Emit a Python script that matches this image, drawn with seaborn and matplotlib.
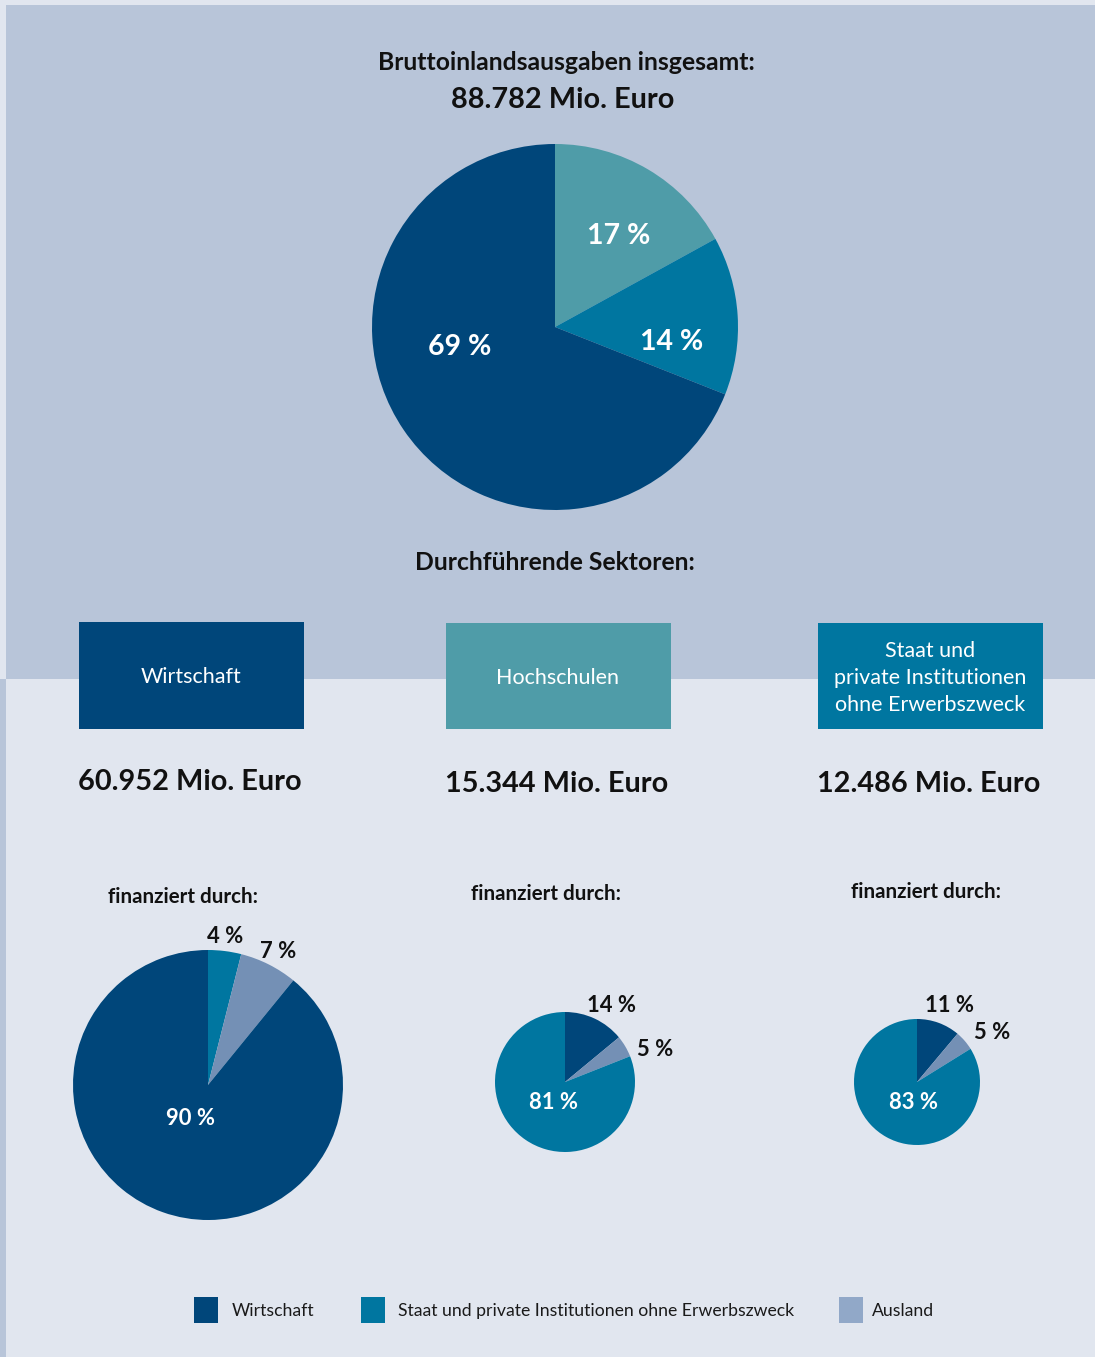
import matplotlib
matplotlib.use("Agg")
import matplotlib.pyplot as plt
import seaborn as sns
import numpy as np
from matplotlib.patches import Rectangle

# ---------------- data ----------------
total_amount = 88782
sectors = ["Wirtschaft", "Hochschulen", "Staat und\nprivate Institutionen\nohne Erwerbszweck"]
sector_keys = ["Wirtschaft", "Hochschulen", "Staat"]
sector_amounts = [60952, 15344, 12486]
# share of total by performing sector, drawn clockwise from top
total_order = ["Hochschulen", "Staat", "Wirtschaft"]
total_shares = [17, 14, 69]

funders = ["Wirtschaft", "Staat", "Ausland"]
funder_labels = ["Wirtschaft", "Staat und private Institutionen ohne Erwerbszweck", "Ausland"]
# financing shares (%) per performing sector, order: Wirtschaft, Staat, Ausland
fin_wirtschaft = [90, 4, 7]
fin_hochschulen = [14, 81, 5]
fin_staat = [11, 83, 5]

# ---------------- style ----------------
W, H = 1095, 1357
sns.set_theme(style="white")
plt.rcParams["font.family"] = ["Lato", "DejaVu Sans"]

colors = {
    "Wirtschaft": "#00467a",
    "Hochschulen": "#4f9ca8",
    "Staat": "#0076a0",
    "Ausland": "#7490b5",
}
legend_colors = {"Wirtschaft": "#00467a", "Staat": "#0076a0", "Ausland": "#91a8c8"}
sns.set_palette([colors[k] for k in ["Wirtschaft", "Staat", "Ausland"]])

bg_light = "#e1e6ef"
bg_panel = "#b8c5d9"

def fx(x):
    return x / W

def fy(y):
    return 1 - y / H

def de(n):
    return f"{n:,}".replace(",", ".")

fig = plt.figure(figsize=(W / 100, H / 100), dpi=100)
fig.patch.set_facecolor(bg_light)

# panels
fig.add_artist(Rectangle((fx(6), fy(679)), fx(W - 6), 674 / H, transform=fig.transFigure,
                         facecolor=bg_panel, edgecolor="none", zorder=0))
fig.add_artist(Rectangle((0, 0), fx(6), fy(679), transform=fig.transFigure,
                         facecolor=bg_panel, edgecolor="none", zorder=0))

# titles
fig.text(fx(566), fy(63), "Bruttoinlandsausgaben insgesamt:", ha="center", va="center",
         fontsize=17.8, fontweight="bold", color="#111111")
fig.text(fx(563), fy(100), f"{de(total_amount)} Mio. Euro", ha="center", va="center",
         fontsize=20.8, fontweight="bold", color="#111111")
fig.text(fx(555), fy(563), "Durchführende Sektoren:", ha="center", va="center",
         fontsize=17.8, fontweight="bold", color="#111111")


def pie_axes(cx, cy, r):
    ax = fig.add_axes([fx(cx - r), fy(cy + r), 2 * r / W, 2 * r / H])
    ax.set_facecolor("none")
    return ax


def draw_pie(ax, values, cols, labels, label_pos, label_colors, fs):
    ax.pie(values, colors=cols, startangle=90, counterclock=False,
           wedgeprops=dict(linewidth=0), radius=1)
    ax.set_xlim(-1, 1)
    ax.set_ylim(-1, 1)
    ax.set_aspect("equal")
    ax.axis("off")
    for lab, (px, py), c in zip(labels, label_pos, label_colors):
        ax.text(px, py, lab, ha="center", va="center", fontsize=fs,
                fontweight="bold", color=c, clip_on=False)


# big pie
ax0 = pie_axes(555, 327, 183)
draw_pie(ax0, total_shares, [colors[k] for k in total_order],
         [f"{v} %" for v in total_shares],
         [(0.35, 0.50), (0.64, -0.08), (-0.52, -0.11)],
         ["white"] * 3, 20.5)

# sector boxes and amounts
box_cx = [191, 558, 930]
box_top = [622, 623, 623]
amount_y = [782, 784, 784]
for i, key in enumerate(sector_keys):
    cx = box_cx[i]
    fig.add_artist(Rectangle((fx(cx - 112.5), fy(729)), 225 / W, (729 - box_top[i]) / H,
                             transform=fig.transFigure, facecolor=colors[key],
                             edgecolor="none", zorder=1))
    fig.text(fx(cx), fy((729 + box_top[i]) / 2 + 2), sectors[i], ha="center", va="center",
             fontsize=15.5, color="white", linespacing=1.42, zorder=2)
    fig.text(fx(cx - 1), fy(amount_y[i]), f"{de(sector_amounts[i])} Mio. Euro",
             ha="center", va="center", fontsize=20.8, fontweight="bold", color="#111111")

# "finanziert durch:" headings
fin_xy = [(183, 897), (546, 894), (926, 892)]
for x, y in fin_xy:
    fig.text(fx(x), fy(y), "finanziert durch:", ha="center", va="center",
             fontsize=14.8, fontweight="bold", color="#111111")

# small pies
fin_data = [fin_wirtschaft, fin_hochschulen, fin_staat]
orders = [[1, 2, 0], [0, 2, 1], [0, 2, 1]]
centers = [(208, 1085, 135), (565, 1082, 70), (917, 1082, 63)]
label_positions = [
    [(0.13, 1.10), (0.52, 0.99), (-0.13, -0.25)],
    [(0.66, 1.09), (1.29, 0.46), (-0.16, -0.29)],
    [(0.51, 1.21), (1.19, 0.78), (-0.06, -0.32)],
]
for data, order, (cx, cy, r), lpos in zip(fin_data, orders, centers, label_positions):
    ax = pie_axes(cx, cy, r)
    vals = [data[j] for j in order]
    cols = [colors[funders[j]] for j in order]
    draw_pie(ax, vals, cols, [f"{v} %" for v in vals], lpos,
             ["#111111", "#111111", "white"], 15.8)

# legend
leg_sq_x = [194, 361, 839]
leg_txt_x = [232, 398, 872]
for sx, tx, key, lab in zip(leg_sq_x, leg_txt_x, funders, funder_labels):
    fig.add_artist(Rectangle((fx(sx), fy(1323)), 24 / W, 26 / H, transform=fig.transFigure,
                             facecolor=legend_colors[key], edgecolor="none"))
    fig.text(fx(tx), fy(1311), lab, ha="left", va="center", fontsize=12.7, color="#1a1a1a")

fig.savefig("out.png", dpi=100, facecolor=fig.get_facecolor())
